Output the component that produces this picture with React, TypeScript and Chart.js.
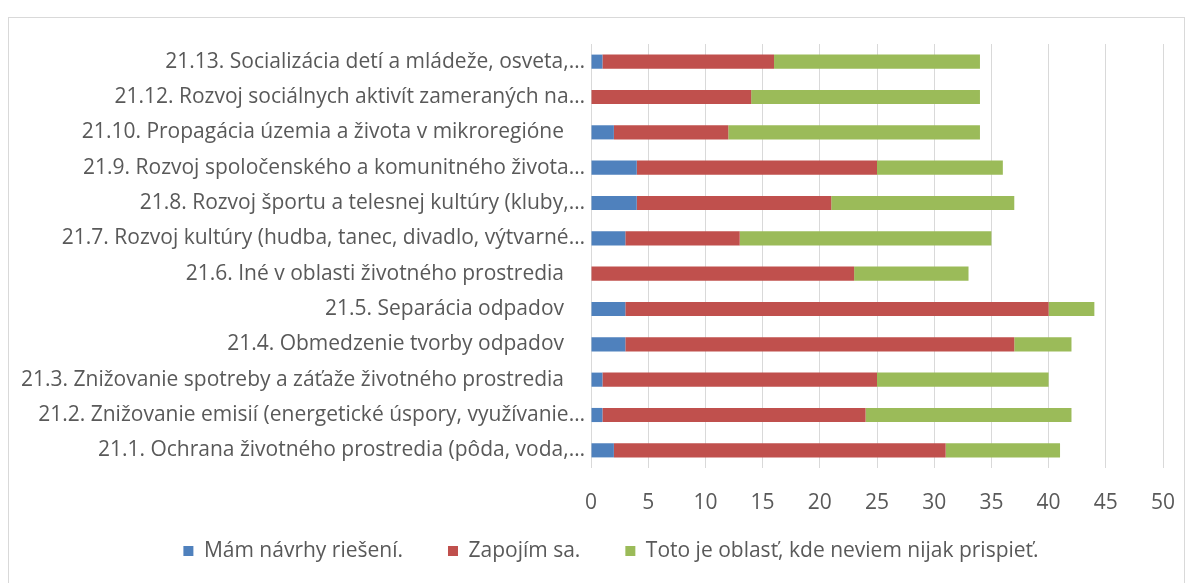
import React, { useEffect, useRef } from "react";
import { Chart, registerables } from "chart.js";

Chart.register(...registerables);

const categories = [
  "21.13. Socializácia detí a mládeže, osveta,…",
  "21.12. Rozvoj sociálnych aktivít zameraných na…",
  "21.10. Propagácia územia a života v mikroregióne\u2003",
  "21.9. Rozvoj spoločenského a komunitného života…",
  "21.8. Rozvoj športu a telesnej kultúry (kluby,…",
  "21.7. Rozvoj kultúry (hudba, tanec, divadlo, výtvarné…",
  "21.6. Iné v oblasti životného prostredia\u2003",
  "21.5. Separácia odpadov\u2003",
  "21.4. Obmedzenie tvorby odpadov\u2003",
  "21.3. Znižovanie spotreby a záťaže životného prostredia\u2003",
  "21.2. Znižovanie emisií (energetické úspory, využívanie…",
  "21.1. Ochrana životného prostredia (pôda, voda,…",
];

const seriesNames = [
  "Mám návrhy riešení.",
  "Zapojím sa.",
  "Toto je oblasť, kde neviem nijak prispieť.",
];

const mamNavrhy = [1, 0, 2, 4, 4, 3, 0, 3, 3, 1, 1, 2];
const zapojimSa = [15, 14, 10, 21, 17, 10, 23, 37, 34, 24, 23, 29];
const neviem = [18, 20, 22, 11, 16, 22, 10, 4, 5, 15, 18, 10];

const xMin = 0;
const xMax = 50;
const xStep = 5;

const FONT = "'Open Sans', 'Noto Sans', sans-serif";
const FS = 21;

const layoutTweak = {
  id: "layoutTweak",
  afterLayout(chart: any) {
    const xs = chart.scales.x;
    if (xs) xs.bottom = xs.top + 55;
    const lg = chart.legend;
    if (lg) {
      lg.left += 25;
      lg.right += 25;
    }
  },
};

export default function App() {
  const ref = useRef<HTMLCanvasElement | null>(null);

  useEffect(() => {
    if (!ref.current) return;
    const chart = new Chart(ref.current, {
      type: "bar",
      data: {
        labels: categories,
        datasets: [
          { label: seriesNames[0], data: mamNavrhy, backgroundColor: "#4f81bd" },
          { label: seriesNames[1], data: zapojimSa, backgroundColor: "#c0504d" },
          { label: seriesNames[2], data: neviem, backgroundColor: "#9bbb59" },
        ],
      },
      plugins: [layoutTweak],
      options: {
        indexAxis: "y",
        responsive: false,
        animation: false,
        datasets: {
          bar: { categoryPercentage: 0.8, barPercentage: 0.5 },
        },
        layout: { padding: { top: 26, right: 21, bottom: 11.5, left: 0 } },
        scales: {
          x: {
            stacked: true,
            min: xMin,
            max: xMax,
            ticks: {
              stepSize: xStep,
              color: "#595959",
              font: { family: FONT, size: FS },
              padding: 22.5,
            },
            grid: { color: "#d9d9d9", lineWidth: 1, drawTicks: false },
            border: { display: false },
            afterFit: (s: any) => {
              s.height = 27.5;
              s.paddingRight = 0;
              s.paddingLeft = 0;
            },
          },
          y: {
            stacked: true,
            ticks: {
              color: "#595959",
              font: { family: FONT, size: FS },
              padding: -2,
            },
            grid: { display: false },
            border: { display: false },
            afterFit: (s: any) => {
              s.width = 582;
            },
          },
        },
        plugins: {
          legend: {
            position: "bottom",
            labels: {
              boxWidth: 10,
              boxHeight: 10,
              padding: 45,
              color: "#595959",
              font: { family: FONT, size: FS },
            },
          },
          tooltip: { enabled: false },
        },
      },
    });
    return () => chart.destroy();
  }, []);

  return (
    <div style={{ paddingTop: 9 }}>
      <div
        style={{
          width: 1175,
          height: 580,
          border: "1px solid #d9d9d9",
          background: "#fff",
        }}
      >
        <canvas ref={ref} width={1175} height={565} style={{ display: "block" }} />
      </div>
    </div>
  );
}
